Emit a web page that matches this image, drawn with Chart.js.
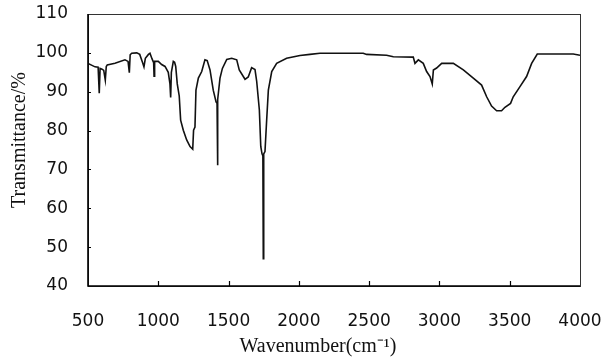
<!DOCTYPE html>
<html>
<head>
<meta charset="utf-8">
<title>IR spectrum</title>
<script src="https://cdn.jsdelivr.net/npm/chart.js@4"></script>
<style>
  html, body { margin: 0; padding: 0; background: #fff; }
  #wrap { width: 615px; height: 364px; position: relative; }
</style>
</head>
<body>
<div id="wrap"><canvas id="irChart"></canvas></div>
<script>
// Wavenumber (cm-1)
const wavenumbers = [
    500, 550, 572, 580, 586, 600, 612, 623, 630, 637, 692, 763, 785, 794, 800, 811,
    847, 868, 888, 898, 908, 930, 941, 955, 967, 970, 974, 1000, 1024, 1048, 1071,
    1083, 1088, 1093, 1107, 1116, 1124, 1135, 1149, 1159, 1178, 1202, 1226, 1245,
    1251, 1261, 1268, 1285, 1309, 1332, 1348, 1368, 1391, 1411, 1418, 1421, 1424,
    1439, 1456, 1487, 1522, 1558, 1576, 1617, 1640, 1664, 1688, 1700, 1719, 1729,
    1738, 1744, 1747, 1750, 1759, 1771, 1783, 1807, 1842, 1913, 2008, 2079, 2150,
    2458, 2482, 2624, 2672, 2814, 2826, 2850, 2885, 2909, 2933, 2949, 2957, 2980,
    3016, 3099, 3170, 3241, 3300, 3336, 3371, 3407, 3442, 3466, 3506, 3525, 3573,
    3620, 3656, 3696, 3810, 3952, 4000
];

// Transmittance (%) at each wavenumber
const transmittance = [
    97.3, 96.4, 96.3, 89.6, 96.0, 95.8, 95.5, 93.0, 96.5, 96.9, 97.3, 98.2, 97.8, 94.9, 99.5, 99.9,
    100, 99.6, 97.5, 96.4, 98.6, 99.6, 99.9, 98.5, 97.5, 94.0, 97.8, 97.8, 97.0, 96.5, 95.0,
    92.0, 88.5, 95.0, 97.8, 97.6, 96.5, 92.0, 88.9, 82.7, 80.1, 77.6, 75.9, 75.2,
    80.1, 80.9, 90.4, 93.5, 95.2, 98.2, 98.0, 95.6, 90.4, 87.4, 87.0, 71.1, 88.0,
    93.5, 96.0, 98.3, 98.6, 98.2, 95.6, 93.2, 93.8, 96.2, 95.7, 92.7, 85.3, 75.9,
    74.0, 73.5, 47.0, 74.0, 74.6, 82.7, 90.4, 95.2, 97.3, 98.6, 99.3, 99.6, 99.9,
    99.9, 99.6, 99.4, 99.0, 98.9, 97.3, 98.2, 97.3, 95.2, 93.9, 92.0, 95.6, 96.1,
    97.3, 97.3, 95.6, 93.5, 91.7, 88.7, 86.3, 85.1, 85.1, 86.0, 87.0, 88.7, 91.3,
    93.9, 97.3, 99.7, 99.7, 99.7, 99.4
];

// Axis ticks
const xTicks = [500, 1000, 1500, 2000, 2500, 3000, 3500, 4000];
const yTicks = [40, 50, 60, 70, 80, 90, 100, 110];

const xTitle = 'Wavenumber(cm⁻¹)';
const yTitle = 'Transmittance/%';

// Frame, inward tick marks and axis titles
const framePlugin = {
    id: 'frame',
    afterDraw(chart) {
        const ctx = chart.ctx;
        const a = chart.chartArea;
        const xs = chart.scales.x;
        const ys = chart.scales.y;
        ctx.save();

        // box round the plot
        ctx.strokeStyle = '#333';
        ctx.lineWidth = 1;
        ctx.strokeRect(a.left + 0.5, a.top + 0.5, a.right - a.left, a.bottom - a.top);
        ctx.strokeStyle = '#000';
        ctx.lineWidth = 1.6;
        ctx.beginPath();
        ctx.moveTo(a.left, a.top);
        ctx.lineTo(a.left, a.bottom);
        ctx.lineTo(a.right, a.bottom);
        ctx.stroke();

        // small ticks pointing into the plot
        ctx.lineWidth = 1.2;
        ctx.beginPath();
        xTicks.slice(1, -1).forEach(v => {
            const px = Math.round(xs.getPixelForValue(v)) + 0.5;
            ctx.moveTo(px, a.bottom);
            ctx.lineTo(px, a.bottom - 5);
        });
        yTicks.slice(1, -1).forEach(v => {
            const py = Math.round(ys.getPixelForValue(v)) + 0.5;
            ctx.moveTo(a.left, py);
            ctx.lineTo(a.left + 3, py);
        });
        ctx.stroke();

        // axis titles
        ctx.fillStyle = '#111';
        ctx.font = '20px "Liberation Serif", "Times New Roman", serif';
        ctx.textAlign = 'center';
        ctx.textBaseline = 'middle';
        ctx.fillText(xTitle, 318, 347);
        ctx.translate(20, 140);
        ctx.rotate(-Math.PI / 2);
        ctx.fillText(yTitle, 0, 0);
        ctx.restore();
    }
};

function drawSpectrum() {
    const ctx = document.getElementById('irChart').getContext('2d');
    const points = wavenumbers.map((w, i) => ({ x: w, y: transmittance[i] }));
    const tickFont = { family: '"DejaVu Sans", sans-serif', size: 17 };

    new Chart(ctx, {
        type: 'line',
        data: {
            datasets: [{
                data: points,
                borderColor: '#111',
                borderWidth: 1.6,
                pointRadius: 0,
                tension: 0,
                fill: false
            }]
        },
        options: {
            responsive: true,
            maintainAspectRatio: false,
            animation: false,
            layout: { padding: { top: 14, right: 35, left: 0, bottom: 0 } },
            plugins: {
                legend: { display: false },
                tooltip: { enabled: false }
            },
            scales: {
                x: {
                    type: 'linear',
                    min: 500,
                    max: 4000,
                    afterFit: s => {
                        s.height = 78;
                        s.paddingLeft = 0;
                        s.paddingRight = 0;
                    },
                    afterBuildTicks: s => { s.ticks = xTicks.map(v => ({ value: v })); },
                    grid: { display: false, drawTicks: false },
                    border: { display: false },
                    ticks: {
                        padding: 25,
                        color: '#111',
                        font: tickFont,
                        callback: v => String(v)
                    }
                },
                y: {
                    min: 40,
                    max: 110,
                    afterFit: s => {
                        s.width = 88;
                        s.paddingTop = 0;
                        s.paddingBottom = 0;
                    },
                    afterBuildTicks: s => { s.ticks = yTicks.map(v => ({ value: v })); },
                    grid: { display: false, drawTicks: false },
                    border: { display: false },
                    ticks: {
                        padding: 20,
                        color: '#111',
                        font: tickFont,
                        callback: v => String(v)
                    }
                }
            }
        },
        plugins: [framePlugin]
    });
}

document.addEventListener('DOMContentLoaded', drawSpectrum);
</script>
</body>
</html>
